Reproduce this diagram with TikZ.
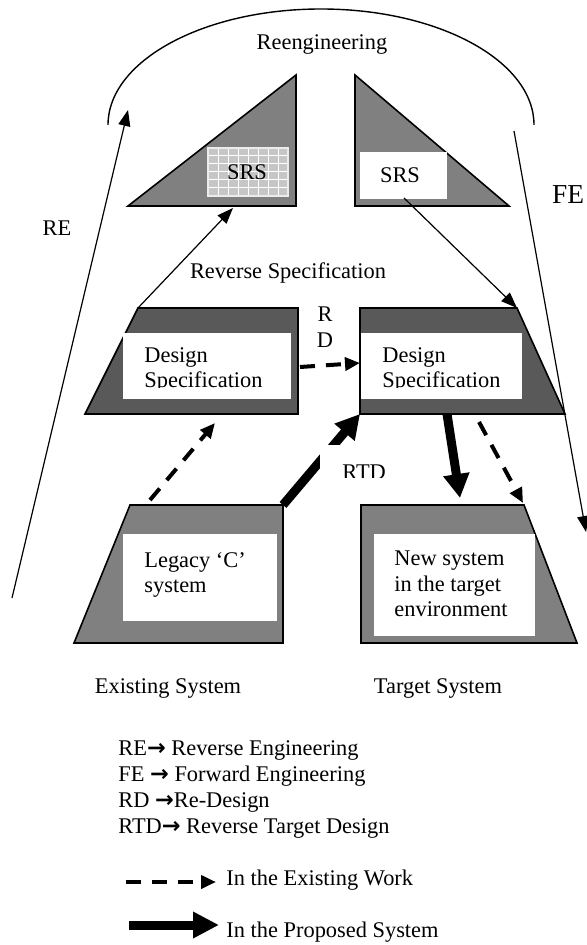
\documentclass[tikz,border=0pt]{standalone}
\usepackage{fontspec}
\setmainfont{Liberation Serif}
\newfontfamily\arrowfont{DejaVu Sans}
\usetikzlibrary{arrows.meta}

\definecolor{shapegray}{HTML}{808080}
\definecolor{specgray}{HTML}{595959}
\definecolor{gridgray}{HTML}{C6C6C6}

\tikzset{
  slab/.style={draw=black,line width=0.8pt},
  txt/.style={inner sep=0pt,font=\fontsize{11.2}{12.8}\selectfont},
  thinarrow/.style={line width=0.6pt,-{Triangle[length=8pt,width=6pt]}},
  dasharrow/.style={line width=2pt,dash pattern=on 7.5pt off 5.5pt,-{Triangle[length=7.5pt,width=6.5pt]}},
  bigarrow/.style={line width=4.5pt,-{Triangle[length=12pt,width=12.5pt]}}
}

\begin{document}
\begin{tikzpicture}[x=0.5pt,y=-0.5pt]
\useasboundingbox (0,0) rectangle (587,945);

% Reengineering arc
\draw[line width=0.7pt] (108,125) arc[start angle=180,end angle=360,x radius=213,y radius=116];
\node[txt] (reeng) at (322,45) {Reengineering};

% Left triangle, SRS
\coordinate (ltri-l) at (128,206);
\coordinate (ltri-t) at (296,75);
\coordinate (ltri-b) at (296,206);
\draw[slab,fill=shapegray] (ltri-l) -- (ltri-t) -- (ltri-b) -- cycle;
\fill[gridgray] (208,148) rectangle (288,196);
\foreach \gx in {218,228,...,278} \draw[white,line width=0.5pt] (\gx,148) -- (\gx,196);
\foreach \gy in {156,164,...,188} \draw[white,line width=0.5pt] (208,\gy) -- (288,\gy);
\draw[white!85!gray,line width=0.6pt] (208,148) rectangle (288,196);
\node[txt] (srsL) at (247,172) {SRS};
\coordinate (srsL-in) at (233,208);

% Right triangle, SRS
\coordinate (rtri-t) at (355,75);
\coordinate (rtri-l) at (355,206);
\coordinate (rtri-r) at (509,206);
\draw[slab,fill=shapegray] (rtri-t) -- (rtri-l) -- (rtri-r) -- cycle;
\fill[white] (360,152) rectangle (447,199);
\node[txt] (srsR) at (400,175) {SRS};
\coordinate (srsR-out) at (404,198);

% Side labels
\node[txt,font=\fontsize{13.7}{16}\selectfont] (fe) at (568,195) {FE};
\node[txt] (re) at (57,228) {RE};
\node[txt] (revspec) at (288,273) {Reverse Specification};
\node[txt,align=center] (rd) at (325,327) {R\\D};

% Design specification, existing
\coordinate (dsL-tl) at (138,308);
\coordinate (dsL-tr) at (298,308);
\coordinate (dsL-br) at (298,414);
\coordinate (dsL-bl) at (85,414);
\draw[slab,fill=specgray] (dsL-tl) -- (dsL-tr) -- (dsL-br) -- (dsL-bl) -- cycle;
\fill[white] (123,333) rectangle (291,399);
\begin{scope}
  \clip (123,333) rectangle (291,388);
  \node[txt,align=left,anchor=west] (dsL-text) at (144,370) {Design\\Specification};
\end{scope}

% Design specification, target
\coordinate (dsR-tl) at (360,308);
\coordinate (dsR-tr) at (517,308);
\coordinate (dsR-br) at (565,414);
\coordinate (dsR-bl) at (360,414);
\draw[slab,fill=specgray] (dsR-tl) -- (dsR-tr) -- (dsR-br) -- (dsR-bl) -- cycle;
\fill[white] (361,333) rectangle (522,399);
\begin{scope}
  \clip (361,333) rectangle (522,388);
  \node[txt,align=left,anchor=west] (dsR-text) at (382,370) {Design\\Specification};
\end{scope}

% Legacy system
\coordinate (leg-tl) at (130,505);
\coordinate (leg-tr) at (283,505);
\coordinate (leg-br) at (283,643);
\coordinate (leg-bl) at (74,643);
\draw[slab,fill=shapegray] (leg-tl) -- (leg-tr) -- (leg-br) -- (leg-bl) -- cycle;
\fill[white] (123,534) rectangle (277,621);
\node[txt,align=left,anchor=west] (leg-text) at (144,575) {Legacy ‘C’\\system};

% Target system
\coordinate (tgt-tl) at (361,505);
\coordinate (tgt-tr) at (524,505);
\coordinate (tgt-br) at (577,643);
\coordinate (tgt-bl) at (361,643);
\draw[slab,fill=shapegray] (tgt-tl) -- (tgt-tr) -- (tgt-br) -- (tgt-bl) -- cycle;
\fill[white] (374,534) rectangle (535,636);
\node[txt,align=left,anchor=west] (tgt-text) at (394,584) {New system\\in the target\\environment};

\node[txt] (existing) at (168,688) {Existing System};
\node[txt] (target) at (438,688) {Target System};

% RE and FE
\coordinate (re-start) at (12,598);
\coordinate (re-end) at (128,110);
\draw[thinarrow] (re-start) -- (re-end);
\coordinate (fe-start) at (514,131);
\coordinate (fe-end) at (586,532);
\draw[thinarrow] (fe-start) -- (fe-end);

% Specification arrows
\draw[thinarrow] (dsL-tl) -- (srsL-in);
\draw[thinarrow] (srsR-out) -- (dsR-tr);

% Existing work
\coordinate (dsL-out) at (300,367);
\coordinate (dsR-in) at (360,363);
\draw[dasharrow] (dsL-out) -- (dsR-in);
\coordinate (leg-up) at (150,500);
\coordinate (dsL-in) at (215,423);
\draw[dasharrow] (leg-up) -- (dsL-in);
\coordinate (dsR-down) at (479,422);
\coordinate (tgt-in) at (523,503);
\draw[dasharrow] (dsR-down) -- (tgt-in);

% Proposed system
\draw[bigarrow] (leg-tr) -- (dsR-bl);
\coordinate (dsR-out) at (447,414);
\coordinate (tgt-top) at (460,498);
\draw[bigarrow] (dsR-out) -- (tgt-top);

% RTD label
\fill[white] (320,445) rectangle (395,477);
\begin{scope}
  \clip (320,445) rectangle (395,477);
  \node[txt,anchor=west] (rtd) at (342,472) {RTD};
\end{scope}

% Legend
\node[txt,anchor=west] (key-re) at (118,750) {RE{\arrowfont\bfseries →} Reverse Engineering};
\node[txt,anchor=west] (key-fe) at (118,776) {FE {\arrowfont\bfseries →} Forward Engineering};
\node[txt,anchor=west] (key-rd) at (118,802) {RD {\arrowfont\bfseries →}Re-Design};
\node[txt,anchor=west] (key-rtd) at (118,828) {RTD{\arrowfont\bfseries →} Reverse Target Design};

\coordinate (dash-a) at (126,882);
\coordinate (dash-b) at (216,882);
\draw[dasharrow] (dash-a) -- (dash-b);
\node[txt,anchor=west] (exwork) at (226,880) {In the Existing Work};
\coordinate (bold-a) at (129,925);
\coordinate (bold-b) at (219,925);
\draw[bigarrow,-{Triangle[length=13pt,width=12.5pt]}] (bold-a) -- (bold-b);
\node[txt,anchor=west] (propsys) at (226,932) {In the Proposed System};

\end{tikzpicture}
\end{document}
